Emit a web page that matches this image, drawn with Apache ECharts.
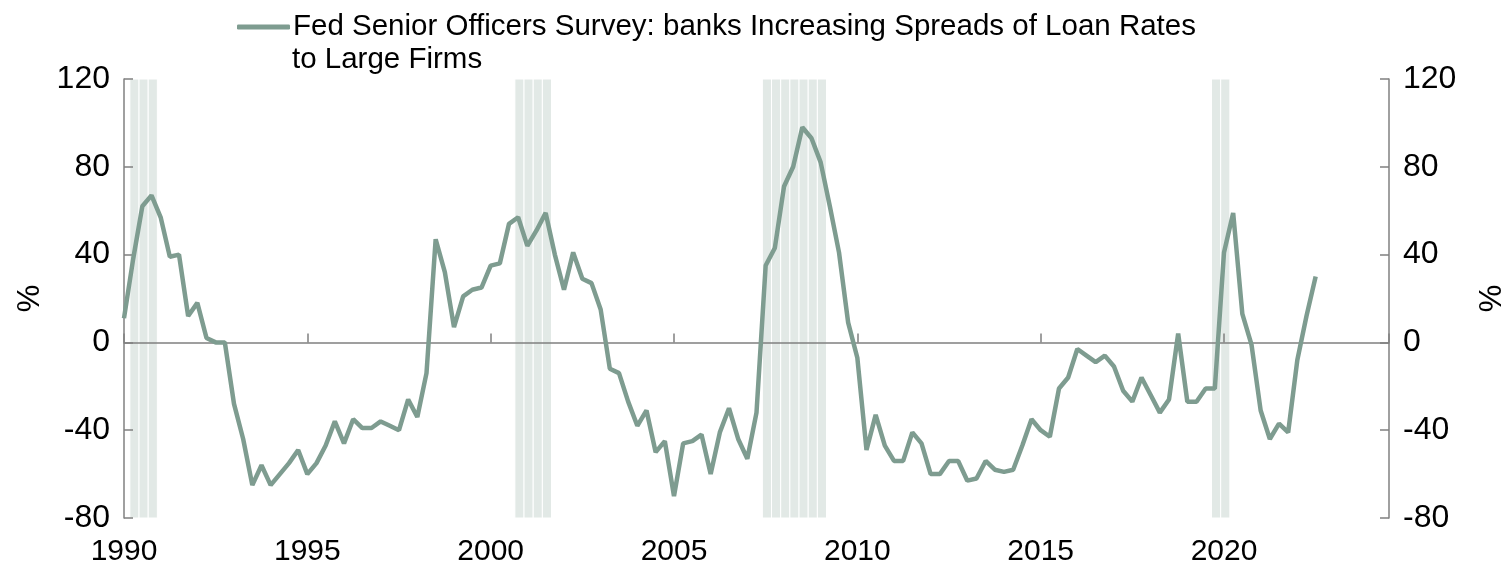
<!DOCTYPE html>
<html>
<head>
<meta charset="utf-8">
<script src="https://cdn.jsdelivr.net/npm/echarts@6/dist/echarts.min.js"></script>
<style>
  html, body { margin: 0; padding: 0; background: #ffffff; overflow: hidden; }
  #chart { width: 1503px; height: 566px; }
</style>
</head>
<body>
<div id="chart"></div>
<script>
// ---- data ----
const seriesName = 'Fed Senior Officers Survey: banks Increasing Spreads of Loan Rates';
const seriesNameLine2 = 'to Large Firms';

const quarters = [
  '1990Q1','1990Q2','1990Q3','1990Q4','1991Q1','1991Q2','1991Q3','1991Q4',
  '1992Q1','1992Q2','1992Q3','1992Q4','1993Q1','1993Q2','1993Q3','1993Q4',
  '1994Q1','1994Q2','1994Q3','1994Q4','1995Q1','1995Q2','1995Q3','1995Q4',
  '1996Q1','1996Q2','1996Q3','1996Q4','1997Q1','1997Q2','1997Q3','1997Q4',
  '1998Q1','1998Q2','1998Q3','1998Q4','1999Q1','1999Q2','1999Q3','1999Q4',
  '2000Q1','2000Q2','2000Q3','2000Q4','2001Q1','2001Q2','2001Q3','2001Q4',
  '2002Q1','2002Q2','2002Q3','2002Q4','2003Q1','2003Q2','2003Q3','2003Q4',
  '2004Q1','2004Q2','2004Q3','2004Q4','2005Q1','2005Q2','2005Q3','2005Q4',
  '2006Q1','2006Q2','2006Q3','2006Q4','2007Q1','2007Q2','2007Q3','2007Q4',
  '2008Q1','2008Q2','2008Q3','2008Q4','2009Q1','2009Q2','2009Q3','2009Q4',
  '2010Q1','2010Q2','2010Q3','2010Q4','2011Q1','2011Q2','2011Q3','2011Q4',
  '2012Q1','2012Q2','2012Q3','2012Q4','2013Q1','2013Q2','2013Q3','2013Q4',
  '2014Q1','2014Q2','2014Q3','2014Q4','2015Q1','2015Q2','2015Q3','2015Q4',
  '2016Q1','2016Q2','2016Q3','2016Q4','2017Q1','2017Q2','2017Q3','2017Q4',
  '2018Q1','2018Q2','2018Q3','2018Q4','2019Q1','2019Q2','2019Q3','2019Q4',
  '2020Q1','2020Q2','2020Q3','2020Q4','2021Q1','2021Q2','2021Q3','2021Q4',
  '2022Q1','2022Q2','2022Q3'
];

const spreadValues = [
  11, 38, 62, 67, 57, 39, 40, 12,
  18, 2, 0, 0, -28, -44, -65, -56,
  -65, -60, -55, -49, -60, -55, -47, -36,
  -46, -35, -39, -39, -36, -38, -40, -26,
  -34, -14, 47, 32, 7, 21, 24, 25,
  35, 36, 54, 57, 44, 51, 59, 40,
  24, 41, 29, 27, 15, -12, -14, -27,
  -38, -31, -50, -45, -70, -46, -45, -42,
  -60, -41, -30, -44, -53, -32, 35, 43,
  71, 80, 98, 93, 82, 62, 41, 9,
  -7, -49, -33, -47, -54, -54, -41, -46,
  -60, -60, -54, -54, -63, -62, -54, -58,
  -59, -58, -47, -35, -40, -43, -21, -16,
  -3, -6, -9, -6, -11, -22, -27, -16,
  -24, -32, -26, 4, -27, -27, -21, -21,
  41, 59, 13, -1, -31, -44, -37, -41,
  -8, 12, 30
];

const recessionQuarters = [
  '1990Q3','1990Q4','1991Q1',
  '2001Q1','2001Q2','2001Q3','2001Q4',
  '2007Q4','2008Q1','2008Q2','2008Q3','2008Q4','2009Q1','2009Q2',
  '2020Q1','2020Q2'
];

const yTicks = [-80, -40, 0, 40, 80, 120];
const xTickYears = [1990, 1995, 2000, 2005, 2010, 2015, 2020];

// ---- helpers ----
function qToYear(q) {
  return parseInt(q.slice(0, 4), 10) + (parseInt(q.slice(5), 10) - 1) * 0.25;
}
const lineData = quarters.map((q, i) => [qToYear(q), spreadValues[i]]);
const shadeShift = -0.34; // recession bars drawn slightly left of their quarter, as in the source
const shadeAreas = recessionQuarters.map(q => {
  const s = qToYear(q) + shadeShift;
  return [{ xAxis: s }, { xAxis: s + 0.25 }];
});

const FONT = '"Liberation Sans", Arial, sans-serif';
const AX = '#808080';
const LINE = '#7E9C90';
const SHADE = '#E2E9E6';

const chart = echarts.init(document.getElementById('chart'), null, { renderer: 'canvas', width: 1503, height: 566 });
const xMin = 1990, xMax = 2024.5;
const yMin = yTicks[0], yMax = yTicks[yTicks.length - 1];

const yAxisCommon = {
  type: 'value', min: yMin, max: yMax, interval: 40,
  axisLine: { show: true, lineStyle: { color: AX, width: 1.5 } },
  axisTick: { show: true, inside: true, length: 9, lineStyle: { color: AX, width: 1.5 } },
  axisLabel: { color: '#000', fontSize: 32, fontFamily: FONT, margin: 14 },
  splitLine: { show: false },
  name: '%', nameLocation: 'middle', nameRotate: 90,
  nameTextStyle: { color: '#000', fontSize: 31, fontFamily: FONT },
  z: 2
};

chart.setOption({
  animation: false,
  backgroundColor: '#ffffff',
  grid: { left: 124, right: 114, top: 79, bottom: 48, containLabel: false, outerBoundsMode: 'none' },
  legend: {
    data: [seriesName],
    left: 237, top: 12, padding: 0,
    itemWidth: 53, itemHeight: 5, itemGap: 0,
    icon: 'roundRect',
    textStyle: { color: '#000', fontSize: 29.5, fontFamily: FONT, padding: [0, 0, 0, -2] },
    selectedMode: false
  },
  title: {
    text: seriesNameLine2,
    left: 287, top: 40,
    textStyle: { color: '#000', fontSize: 29.5, fontWeight: 'normal', fontFamily: FONT }
  },
  xAxis: [
    {
      type: 'value', min: xMin, max: xMax, interval: 5,
      axisLine: { show: true, onZero: true, lineStyle: { color: AX, width: 1.5 } },
      axisTick: { show: true, inside: true, length: 9, lineStyle: { color: AX, width: 1.5 } },
      axisLabel: { show: false },
      splitLine: { show: false },
      z: 2
    },
    {
      type: 'value', min: xMin, max: xMax, interval: 5, position: 'bottom',
      axisLine: { show: false, onZero: false },
      axisTick: { show: false },
      axisLabel: {
        color: '#000', fontSize: 30, fontFamily: FONT, margin: 19, showMaxLabel: false,
        formatter: v => (xTickYears.indexOf(v) >= 0 ? String(v) : '')
      },
      splitLine: { show: false }
    }
  ],
  yAxis: [
    Object.assign({}, yAxisCommon, { position: 'left', nameGap: 75 }),
    Object.assign({}, yAxisCommon, { position: 'right', nameGap: 88 })
  ],
  series: [
    {
      name: 'recession', type: 'line', data: [], z: 1, silent: true,
      markArea: {
        silent: true,
        itemStyle: { color: SHADE, borderColor: '#ffffff', borderWidth: 1 },
        data: shadeAreas
      }
    },
    {
      name: seriesName, type: 'line', data: lineData,
      showSymbol: false, symbol: 'none',
      lineStyle: { color: LINE, width: 4.5 },
      itemStyle: { color: LINE },
      z: 3
    }
  ]
});
</script>
</body>
</html>
